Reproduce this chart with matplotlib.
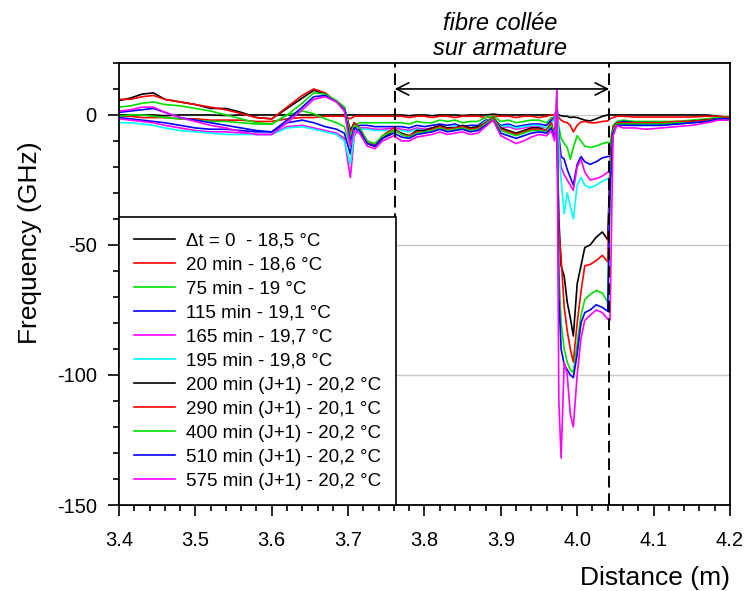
import matplotlib
matplotlib.use("Agg")
import matplotlib.pyplot as plt

plt.rcParams['font.family'] = ['Liberation Sans', 'DejaVu Sans']
plt.rcParams['axes.unicode_minus'] = False

# distance grid (m)
x = [3.400, 3.415, 3.430, 3.445, 3.460, 3.480, 3.500, 3.520, 3.540, 3.560, 3.580, 3.600, 3.620,
     3.640, 3.655, 3.670, 3.685, 3.695, 3.703, 3.708, 3.715, 3.725, 3.735, 3.745, 3.760,
     3.770, 3.780, 3.790, 3.800, 3.810, 3.820, 3.830, 3.840, 3.850, 3.860, 3.870, 3.880,
     3.890, 3.900, 3.910, 3.920, 3.930, 3.940, 3.950, 3.960, 3.966,
     3.9705, 3.9735, 3.976, 3.979, 3.983, 3.987, 3.991, 3.995, 4.000, 4.005, 4.010, 4.017,
     4.025, 4.033, 4.040, 4.043, 4.047, 4.052,
     4.060, 4.075, 4.090, 4.110, 4.130, 4.150, 4.170, 4.185, 4.200]

labels = ["\u0394t = 0  - 18,5 °C", "20 min - 18,6 °C", "75 min - 19 °C", "115 min - 19,1 °C",
          "165 min - 19,7 °C", "195 min - 19,8 °C", "200 min (J+1) - 20,2 °C",
          "290 min (J+1) - 20,1 °C", "400 min (J+1) - 20,2 °C", "510 min (J+1) - 20,2 °C",
          "575 min (J+1) - 20,2 °C"]
colors = ["black", "red", "#00e000", "blue", "magenta", "cyan",
          "black", "red", "#00e000", "blue", "magenta"]

t0 = [0, 0, 0, 0, -0.3, 0, 0, 0, -0.2, 0, 0, 0, 0, 0, 0, 0, 0, 0, 0, 0, 0, 0, 0, 0, 0,
      0, -0.3, 0, 0, -0.3, 0, 0, 0, -0.2, 0, 0, 0, 0.3, 0, 0, 0, 0, 0, 0, 0, 0,
      0, 0, 0, -0.3, -0.5, -0.5, -1, -0.8, -1, -1.5, -2, -2.3, -1.5, -0.5, 0, 0, 0, 0,
      0, 0, 0, 0, 0, 0, 0, -0.5, -1]
t20 = [-0.5, -0.5, -1, -1, -1, -1.5, -1.5, -2, -2, -2, -2.5, -2.5, -1.5, -1, -1, -0.5, -0.5, -0.5, -1.5, -0.5, -0.5, -0.5, -0.5, -0.5, -0.5,
       -0.5, -1, -0.5, -0.5, -1, -0.5, -0.5, -1, -0.5, -0.5, -0.5, -1, -0.5, -0.5, -0.5, -1, -0.5, -0.5, -1, -0.5, 0,
       0, 0, -1, -2, -2.7, -3, -4, -6.5, -4, -2.7, -2.5, -3, -3, -2.5, -2.3, -1.5, -1, -0.5,
       -0.5, -0.8, -0.8, -0.8, -0.8, -0.8, -0.5, -0.5, -1]
t75 = [-0.5, 0, 0, -0.5, -1, -1.5, -2, -2.5, -2.5, -3, -3.5, -3.5, 0, 1.5, 0.5, -1.5, -3, -4.5, -12, -4, -3, -3, -3, -3, -3,
       -3, -3.5, -2.5, -3, -3, -2, -2.5, -2, -3, -2.5, -2.5, -1, -0.5, -2.5, -2, -3, -2.5, -2, -2, -3, -1,
       -1, 4, -4.5, -9, -11, -12.5, -17, -12.5, -8, -10, -12, -12.5, -12, -11, -10.5, -11, -4, -2.5,
       -2, -2.5, -2.5, -2.5, -2.5, -2, -1.5, -1, -1]
t115 = [-1, -1.5, -2, -2.5, -3, -4, -5, -5.5, -5.5, -6, -6.5, -6.5, -3, -2, -3, -4.5, -5.5, -7, -15, -5, -4, -4, -4.5, -4.5, -4.5,
        -4.5, -5, -4, -4.5, -4, -3.5, -4, -3.5, -4.5, -4, -4, -2, -1.5, -4, -3.5, -4.5, -4, -3.5, -3.5, -4, -2,
        -1, 3, -8, -16, -17, -21, -24, -27, -19, -16, -18, -19, -18, -16.5, -16, -16, -5, -3,
        -2.5, -3, -3, -3, -3, -2.5, -2, -1.5, -1.5]
t165 = [-1.5, -2, -2.5, -3, -4, -5, -6, -6.5, -6.5, -7, -7.5, -7.5, -4.5, -4, -5, -6, -7, -9, -24, -8, -5, -5, -5.5, -5.5, -5,
        -5.5, -6, -5, -5.5, -5, -4.5, -5, -4.5, -5.5, -5, -5, -3, -2, -5, -4.5, -5.5, -5, -4.5, -4.5, -5, -3,
        -1, 4, -10, -20, -23, -25, -27, -29, -20, -17, -22, -25, -24.5, -23.5, -22, -22, -6, -3.5,
        -3, -3.5, -3.5, -3.5, -3.5, -3, -2.5, -1.5, -1.5]
t195 = [-3, -3, -3.5, -4, -5, -6, -6.5, -7, -7.5, -7.5, -7.5, -7.5, -5, -4.5, -5.5, -6.5, -7.5, -10, -19, -7, -5.5, -5.5, -6, -6, -6,
        -6, -6.5, -5.5, -6, -5.5, -5, -5.5, -4, -5.5, -5, -4.5, -2.5, -1, -4.5, -4, -5, -4.5, -4, -4, -5, -3,
        -2, 3, -12, -25, -38, -30, -35, -40, -27, -24, -27, -28, -27, -25.5, -24.5, -25, -7, -4,
        -3.5, -4, -4, -4, -3.5, -3, -2.5, -2, -1.5]
t200 = [5.5, 6.5, 8, 8.5, 6, 5, 4, 2.5, 2.5, 1, -1, -1.5, 2.5, 6.5, 9.5, 8, 5, 3, -6, -3, -5, -11, -12, -9, -6,
        -7, -8, -6, -6, -5, -4, -5, -5, -4, -5, -4.5, -3, -1, -5, -6, -7, -6, -5, -5, -6, -3,
        -8, -5, -40, -58, -62, -72, -78, -85, -65, -58, -51, -50, -47, -45, -48, -20, -6, -3.5,
        -3, -3, -3, -3, -3, -2.5, -2, -1.5, -1]
t290 = [6, 6, 7, 7.5, 6, 5, 4, 3, 2, 0.5, -1, -1.5, 3, 7.5, 10, 8.5, 5, 2.5, -7, -3, -5, -10, -11.5, -8, -5,
        -7.5, -8, -6.5, -6.5, -5.5, -4.5, -5.5, -5, -4.5, -5.5, -5, -3, -1, -5.5, -6.5, -7.5, -6.5, -5.5, -5.5, -6, -3,
        -8, -2, -45, -55, -74, -83, -90, -95, -80, -68, -58, -57.5, -56, -54, -56.5, -20, -5, -3,
        -3, -3, -3, -3, -2.5, -2.5, -2, -1.5, -1]
t400 = [3, 3.5, 4.5, 5, 4, 3.5, 2.5, 1.5, 0, -1.5, -3, -3.5, 0, 4.5, 8.5, 8, 5.5, 3, -8, -4, -5, -10, -11, -8, -6,
        -7.5, -8.5, -7, -6.5, -6, -5, -6, -5.5, -5, -6, -5.5, -3.5, -1.5, -6, -7, -8, -7, -6, -6, -6.5, -4,
        -8, 9, -60, -80, -90, -95, -98, -99, -88, -77, -71, -69, -67.5, -68.5, -72, -25, -6, -3.5,
        -3.5, -3.5, -3.5, -3.5, -3, -3, -2.5, -1.5, -1.5]
t510 = [1, 1.5, 2, 2.5, 1, -1, -2, -3, -4, -5, -6, -6.5, -2, 3, 7, 7.5, 5, 2, -10, -5, -6, -11, -12, -9, -7,
        -8.5, -9, -7.5, -7, -6.5, -5.5, -6.5, -6, -5.5, -6.5, -6, -4, -2, -7, -8, -9, -8, -7, -6.5, -7, -5,
        -9, 3, -70, -90, -96, -98, -100, -101, -92, -80, -76, -75, -73, -74, -75.5, -30, -7, -4,
        -4, -4, -4, -4, -3.5, -3, -2.5, -1.5, -1.5]
t575 = [1.5, 2, 3, 3, 1, -1, -2.5, -4, -5, -6.5, -7.5, -7.5, -3, 2, 6, 7, 5, 1.5, -12, -6, -7, -12, -13, -10, -8,
        -10, -10, -8.5, -8, -7.5, -6.5, -7.5, -7, -6.5, -7.5, -7, -4.5, -2, -8, -9.5, -11, -10, -8.5, -7.5, -8, -6,
        -10, 10, -110, -132, -95, -100, -115, -120, -100, -86, -79, -77, -75, -76, -78.5, -79, -8, -4,
        -5, -5, -5.5, -5, -4.5, -4, -3, -2, -2]

series = [t0, t20, t75, t115, t165, t195, t200, t290, t400, t510, t575]

# glued zone limits (m)
zone = [3.761, 4.042]

fig = plt.figure(figsize=(7.44, 5.91), dpi=100)
ax = fig.add_axes([0.16, 0.1455, 0.821, 0.748])

for y, c, lab in zip(series, colors, labels):
    ax.plot(x, y, color=c, lw=1.2, label=lab)

for z in zone:
    ax.axvline(z, color="black", lw=1.4, ls=(0, (6, 3)), zorder=5)

ax.annotate("", xy=(zone[0], 10), xytext=(zone[1], 10),
            arrowprops=dict(arrowstyle="<->", color="black", lw=1.2, mutation_scale=22,
                            shrinkA=0, shrinkB=0))

fig.text(0.672, 0.960, "fibre collée", ha="center", va="center", fontsize=17, style="italic")
fig.text(0.672, 0.918, "sur armature", ha="center", va="center", fontsize=17, style="italic")

ax.set_xlim(3.4, 4.2)
ax.set_ylim(-150, 20)
ax.set_xticks([3.4, 3.5, 3.6, 3.7, 3.8, 3.9, 4.0, 4.1, 4.2])
ax.set_xticklabels(["3.4", "3.5", "3.6", "3.7", "3.8", "3.9", "4.0", "4.1", "4.2"])
ax.set_xticks([3.4 + 0.02 * i for i in range(41)], minor=True)
ax.set_yticks([-150, -100, -50, 0])
ax.set_yticks(list(range(-150, 21, 10)), minor=True)
ax.yaxis.grid(True, color="#c8c8c8", lw=1)
ax.set_axisbelow(True)

ax.tick_params(which="both", direction="out", top=False, right=False, labelsize=14.5, width=1.2)
ax.tick_params(which="major", length=8)
ax.tick_params(which="minor", length=4)
ax.tick_params(axis="x", pad=11)
ax.tick_params(axis="y", pad=8)
for s in ax.spines.values():
    s.set_linewidth(1.3)

ax.set_xlabel("Distance (m)", fontsize=19, ha="right", va="center")
ax.xaxis.set_label_coords(1.0, -0.165)
ax.set_ylabel("Frequency (GHz)", fontsize=19, va="center")
ax.yaxis.set_label_coords(-0.146, 0.593)

leg = ax.legend(loc="lower left", bbox_to_anchor=(0, 0), borderaxespad=0, fontsize=13.5,
                handlelength=2.2, handletextpad=0.55, labelspacing=0.37, borderpad=0.8,
                fancybox=False, framealpha=1, edgecolor="black")
leg.get_frame().set_linewidth(1.2)
leg.set_zorder(10)

fig.savefig("out.png", dpi=100)
